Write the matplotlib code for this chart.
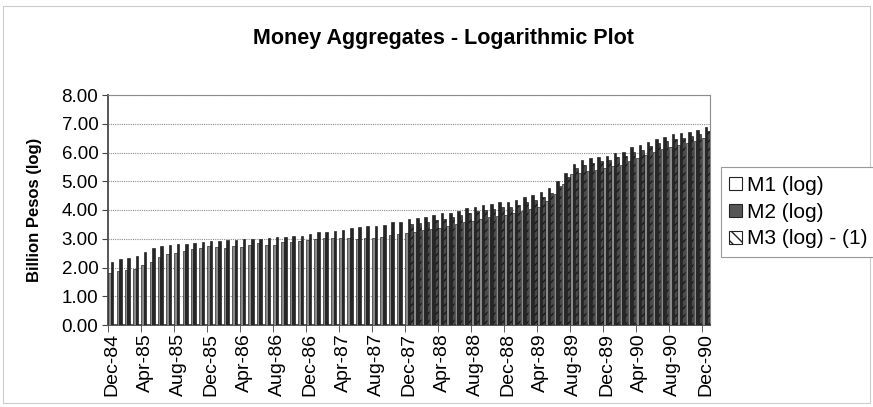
import numpy as np
import matplotlib
matplotlib.use("Agg")
import matplotlib.pyplot as plt
from matplotlib.patches import Patch, Rectangle

plt.rcParams["font.family"] = ["Liberation Sans", "DejaVu Sans"]

# monthly observations, Dec-84 .. Dec-90 (73 months)
TICK_LABELS = ["Dec-84", "Apr-85", "Aug-85", "Dec-85", "Apr-86", "Aug-86", "Dec-86",
               "Apr-87", "Aug-87", "Dec-87", "Apr-88", "Aug-88", "Dec-88", "Apr-89",
               "Aug-89", "Dec-89", "Apr-90", "Aug-90", "Dec-90"]

M1_LOG = [1.80, 1.89, 1.91, 1.96, 2.08, 2.18, 2.38, 2.46, 2.52, 2.59, 2.63, 2.69,
          2.76, 2.72, 2.67, 2.76, 2.72, 2.78, 2.84, 2.78, 2.78, 2.90, 2.88, 2.92,
          2.94, 2.98, 3.01, 3.01, 3.01, 3.01, 2.98, 3.01, 3.01, 3.05, 3.13, 3.17,
          3.20, 3.22, 3.30, 3.35, 3.38, 3.44, 3.50, 3.58, 3.62, 3.68, 3.75, 3.80,
          3.82, 3.88, 3.95, 4.02, 4.10, 4.30, 4.56, 4.90, 5.25, 5.28, 5.35, 5.38,
          5.45, 5.52, 5.58, 5.70, 5.80, 5.92, 6.02, 6.12, 6.20, 6.25, 6.32, 6.40,
          6.50]

M2_LOG = [2.20, 2.28, 2.32, 2.40, 2.55, 2.67, 2.75, 2.78, 2.82, 2.82, 2.84, 2.88,
          2.92, 2.92, 2.96, 2.96, 2.99, 2.99, 2.99, 3.01, 3.05, 3.07, 3.10, 3.10,
          3.17, 3.25, 3.25, 3.28, 3.30, 3.36, 3.42, 3.45, 3.45, 3.48, 3.57, 3.59,
          3.69, 3.73, 3.77, 3.83, 3.88, 3.91, 3.98, 4.06, 4.12, 4.17, 4.21, 4.27,
          4.29, 4.35, 4.44, 4.52, 4.62, 4.75, 5.00, 5.30, 5.60, 5.74, 5.80, 5.85,
          5.88, 5.98, 6.03, 6.18, 6.26, 6.38, 6.47, 6.55, 6.64, 6.67, 6.72, 6.80,
          6.88]

# M3 only reported from Dec-87 onward
M3_START = 36
M3_LOG_MINUS1 = [3.50, 3.55, 3.60, 3.66, 3.70, 3.75, 3.82, 3.90, 3.95, 4.00, 4.05,
                 4.10, 4.12, 4.18, 4.27, 4.35, 4.45, 4.60, 4.85, 5.15, 5.45, 5.58,
                 5.65, 5.70, 5.74, 5.83, 5.88, 6.02, 6.10, 6.22, 6.32, 6.40, 6.48,
                 6.52, 6.58, 6.66, 6.75]

n = len(M2_LOG)
x = np.arange(n)
m3 = np.full(n, np.nan)
m3[M3_START:] = M3_LOG_MINUS1

fig = plt.figure(figsize=(8.73, 4.07), dpi=100)
ax = fig.add_axes([108 / 873, 1 - 325 / 407, 602 / 873, 230 / 407])

w = 0.31
edge = dict(edgecolor="#1a1a1a", linewidth=0.45)
ax.bar(x - w, M1_LOG, w, color="#8a8a8a", zorder=3, **edge)
ax.bar(x, M2_LOG, w, color="#262626", zorder=3, **edge)
ax.bar(x + w, m3, w, color="#4a4a4a", hatch="////", zorder=3, **edge)

ax.set_xlim(-0.5, n - 0.5)
ax.set_ylim(0, 8)
ax.set_yticks(np.arange(0, 9, 1))
ax.set_yticklabels([f"{v:.2f}" for v in range(9)], fontsize=13.5)
ax.yaxis.grid(True, color="#8c8c8c", linestyle=(0, (1, 1)), linewidth=0.8, zorder=0)

label_pos = np.arange(0, n, 4)
ax.set_xticks(label_pos)
ax.set_xticklabels(TICK_LABELS, rotation=90, fontsize=14)
ax.tick_params(axis="x", which="major", length=0, pad=6)
ax.set_xticks(label_pos - 0.5, minor=True)
ax.tick_params(axis="x", which="minor", length=5, color="#444444", direction="out")
ax.tick_params(axis="y", length=4, color="#444444", pad=3)

ax.spines["left"].set_color("#555555")
ax.spines["left"].set_linewidth(1.4)
ax.spines["bottom"].set_color("#555555")
ax.spines["bottom"].set_linewidth(1.4)
for side in ("top", "right"):
    ax.spines[side].set_color("#8c8c8c")
    ax.spines[side].set_linestyle((0, (1, 1)))
    ax.spines[side].set_linewidth(0.8)

ax.set_ylabel("Billion Pesos (log)", fontsize=12, fontweight="bold", labelpad=14)
fig.text(0.508, 0.905, "Money Aggregates - Logarithmic Plot", ha="center", va="center",
         fontsize=15.5, fontweight="bold")

handles = [Patch(facecolor="white", edgecolor="#222222", linewidth=0.8),
           Patch(facecolor="#555555", edgecolor="#222222", linewidth=0.8),
           Patch(facecolor="white", edgecolor="#222222", hatch="\\\\\\", linewidth=0.8)]
leg = fig.legend(handles, ["M1 (log)", "M2 (log)", "M3 (log) - (1)"],
                 loc="center left", bbox_to_anchor=(0.826, 0.479), fontsize=15,
                 handlelength=0.6, handleheight=0.6, handletextpad=0.25,
                 labelspacing=0.38, borderpad=0.4, borderaxespad=0, fancybox=False,
                 framealpha=1)
leg.get_frame().set_edgecolor("#999999")
leg.get_frame().set_linewidth(0.8)

fig.patches.append(Rectangle((0.003, 0.01), 0.994, 0.975, transform=fig.transFigure,
                             fill=False, edgecolor="#cccccc", linewidth=0.8))

fig.savefig("out.png", dpi=100)
